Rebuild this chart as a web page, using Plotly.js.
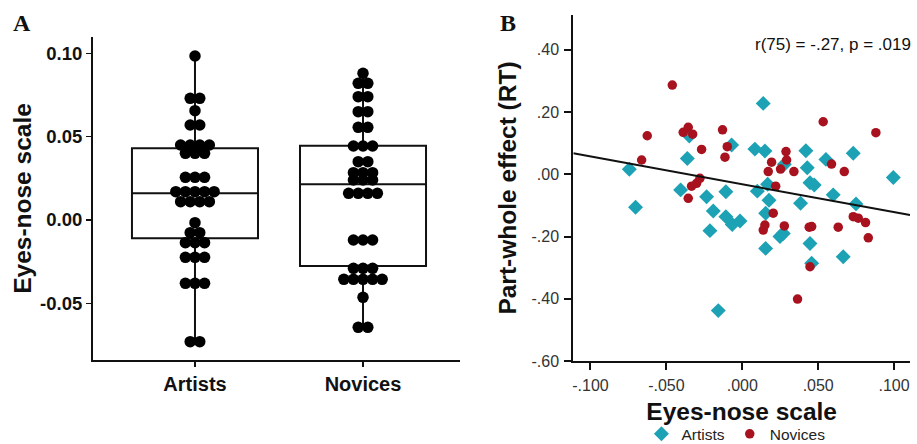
<!DOCTYPE html>
<html>
<head>
<meta charset="utf-8">
<script src="https://cdn.plot.ly/plotly-3.0.1.min.js"></script>
<style>html,body{margin:0;padding:0;background:#fff;}#chart{width:917px;height:444px;}</style>
</head>
<body>
<div id="chart"></div>
<script>
// ---------- Panel A: dot plot + box (Eyes-nose scale) ----------
const groupLabels = ["Artists", "Novices"];
const artistsScale = [
  0.0984,
  0.073, 0.073,
  0.0656,
  0.057, 0.057,
  0.045, 0.045, 0.045, 0.045,
  0.040, 0.040, 0.040,
  0.0256, 0.0256, 0.0256,
  0.017, 0.017, 0.017, 0.017, 0.017,
  0.011, 0.011, 0.011, 0.011,
  -0.0016,
  -0.0076, -0.0076,
  -0.0136, -0.0136, -0.0136,
  -0.0224, -0.0224, -0.0224,
  -0.038, -0.038, -0.038,
  -0.073, -0.073
];
const novicesScale = [
  0.088,
  0.082, 0.082,
  0.074, 0.074,
  0.065, 0.065,
  0.0556, 0.0556,
  0.0444, 0.0444, 0.0444,
  0.035, 0.035,
  0.0284, 0.0284, 0.0284,
  0.024, 0.024, 0.024,
  0.016, 0.016, 0.016, 0.016,
  -0.012, -0.012, -0.012,
  -0.029, -0.029, -0.029,
  -0.0356, -0.0356, -0.0356, -0.0356, -0.0356,
  -0.0464,
  -0.0644, -0.0644
];
// box summary (whiskers to min / max)
const boxMin    = [-0.073, -0.0644];
const boxQ1     = [-0.011, -0.0276];
const boxMedian = [0.016, 0.0214];
const boxQ3     = [0.043, 0.0446];
const boxMax    = [0.0984, 0.088];

// ---------- Panel B: scatter ----------
const artistsX = [-0.0744,-0.0703,-0.0362,-0.0406,-0.0235,-0.0191,-0.0213,-0.0158,-0.0108,-0.0108,
  -0.0070,-0.0066,-0.0015,0.0083,0.0099,0.0138,0.0149,0.0167,0.0176,0.0154,
  0.0154,0.0248,0.0270,0.0277,0.0384,0.0419,0.0428,0.0446,0.0474,0.0446,
  0.0457,0.0551,0.0599,0.0665,0.0731,0.0749,0.0995,-0.0349];
const artistsY = [0.016,-0.106,0.051,-0.050,-0.072,-0.118,-0.181,-0.438,-0.056,-0.136,
  0.094,-0.161,-0.150,0.081,-0.054,0.228,0.075,-0.032,-0.083,-0.125,
  -0.238,-0.200,-0.190,0.032,-0.093,0.076,0.021,-0.027,-0.034,-0.222,
  -0.286,0.048,-0.066,-0.265,0.068,-0.095,-0.010,0.123];
const novicesX = [-0.0461,-0.0626,-0.0663,-0.0389,-0.0356,-0.0327,-0.0268,-0.0334,-0.0301,-0.0279,
  -0.0356,-0.0130,-0.0099,-0.0114,0.0138,0.0149,0.0171,0.0193,0.0204,0.0220,
  0.0252,0.0288,0.0292,0.0277,0.0340,0.0364,0.0441,0.0457,0.0446,0.0533,
  0.0588,0.0632,0.0672,0.0731,0.0764,0.0812,0.0830,0.0880];
const novicesY = [0.287,0.124,0.046,0.135,0.151,0.129,0.080,-0.038,-0.029,-0.013,
  -0.077,0.143,0.089,0.055,-0.179,-0.163,0.009,0.039,-0.125,-0.038,
  0.017,0.073,0.046,-0.166,0.009,-0.401,-0.170,-0.168,-0.297,0.169,
  0.033,-0.170,0.009,-0.136,-0.141,-0.155,-0.204,0.134];
const fitIntercept = -0.032;
const fitSlope = -0.895;
const fitXRange = [-0.1113, 0.1105];
const statText = "r(75) = -.27, p = .019";

// dot-plot stacking: centre equal values side by side
function stackOffsets(vals, centre, step) {
  const counts = {}, seen = {};
  vals.forEach(v => { counts[v] = (counts[v] || 0) + 1; });
  return vals.map(v => {
    const i = seen[v] || 0; seen[v] = i + 1;
    return centre + (i - (counts[v] - 1) / 2) * step;
  });
}
const dotStep = 0.057;

const FONT = "Arial, 'Liberation Sans', sans-serif";
const SERIF = "'Times New Roman', 'Liberation Serif', serif";
const CYAN = "#1ca2b4";
const RED = "#a8121e";

const traces = [
  {
    type: "box", xaxis: "x", yaxis: "y",
    x: [0, 1], q1: boxQ1, median: boxMedian, q3: boxQ3,
    lowerfence: boxMin, upperfence: boxMax,
    width: 0.75, whiskerwidth: 0, boxpoints: false,
    line: {color: "#111", width: 2}, fillcolor: "rgba(255,255,255,0)",
    showlegend: false, hoverinfo: "skip"
  },
  {
    type: "scatter", mode: "markers", xaxis: "x", yaxis: "y",
    x: stackOffsets(artistsScale, 0, dotStep), y: artistsScale,
    marker: {color: "#000", size: 11.5}, showlegend: false
  },
  {
    type: "scatter", mode: "markers", xaxis: "x", yaxis: "y",
    x: stackOffsets(novicesScale, 1, dotStep), y: novicesScale,
    marker: {color: "#000", size: 11.5}, showlegend: false
  },
  {
    type: "scatter", mode: "markers", xaxis: "x2", yaxis: "y2",
    name: "Artists", x: artistsX, y: artistsY,
    marker: {color: CYAN, symbol: "diamond", size: 11.5}
  },
  {
    type: "scatter", mode: "markers", xaxis: "x2", yaxis: "y2",
    name: "Novices", x: novicesX, y: novicesY,
    marker: {color: RED, symbol: "circle", size: 9.5}
  },
  {
    type: "scatter", mode: "lines", xaxis: "x2", yaxis: "y2",
    x: fitXRange, y: fitXRange.map(x => fitIntercept + fitSlope * x),
    line: {color: "#111", width: 2}, showlegend: false, hoverinfo: "skip"
  }
];

const layout = {
  width: 917, height: 444,
  margin: {l: 0, r: 0, t: 0, b: 0, autoexpand: false},
  paper_bgcolor: "#fff", plot_bgcolor: "rgba(0,0,0,0)",
  font: {family: FONT, color: "#000"},
  showlegend: true,
  legend: {
    orientation: "h", x: 0.6995, y: 0.022, xanchor: "left", yanchor: "middle",
    font: {family: FONT, size: 15.5, color: "#222"},
    itemwidth: 30, tracegroupgap: 0, bgcolor: "rgba(0,0,0,0)"
  },
  xaxis: {
    domain: [0.1014, 0.5016], range: [-0.607, 1.577],
    tickvals: [0, 1], ticktext: groupLabels,
    showgrid: false, zeroline: false, showline: true, linecolor: "#111", linewidth: 2,
    ticks: "outside", ticklen: 5, tickwidth: 1.5, tickcolor: "#111",
    tickfont: {family: FONT, size: 20, color: "#111", weight: "bold"},
    anchor: "y", fixedrange: true
  },
  yaxis: {
    domain: [0.1892, 0.9167], range: [-0.084, 0.1098],
    tickvals: [-0.05, 0, 0.05, 0.10], ticktext: ["-0.05", "0.00", "0.05", "0.10"],
    showgrid: false, zeroline: false, showline: true, linecolor: "#111", linewidth: 2,
    ticks: "outside", ticklen: 5, tickwidth: 1.5, tickcolor: "#111",
    tickfont: {family: FONT, size: 18.5, color: "#111", weight: "bold"},
    title: {text: "Eyes-nose scale", font: {family: FONT, size: 24.5, color: "#111", weight: "bold"}, standoff: 2},
    anchor: "x", fixedrange: true
  },
  xaxis2: {
    domain: [0.6252, 0.9924], range: [-0.1113, 0.1105],
    tickvals: [-0.1, -0.05, 0, 0.05, 0.1], ticktext: ["-.100", "-.050", ".000", ".050", ".100"],
    showgrid: false, zeroline: false, showline: true, linecolor: "#111", linewidth: 2,
    ticks: "outside", ticklen: 7, tickwidth: 2, tickcolor: "#111",
    tickfont: {family: FONT, size: 16, color: "#333"}, ticklabelstandoff: 2,
    title: {text: "Eyes-nose scale", font: {family: FONT, size: 24.5, color: "#111", weight: "bold"}, standoff: 10},
    anchor: "y2", fixedrange: true
  },
  yaxis2: {
    domain: [0.1869, 0.9662], range: [-0.60, 0.512],
    tickvals: [-0.6, -0.4, -0.2, 0, 0.2, 0.4], ticktext: ["-.60", "-.40", "-.20", ".00", ".20", ".40"],
    showgrid: false, zeroline: false, showline: true, linecolor: "#111", linewidth: 2,
    ticks: "outside", ticklen: 7, tickwidth: 2, tickcolor: "#111",
    tickfont: {family: FONT, size: 16, color: "#333"}, ticklabelstandoff: 2,
    title: {text: "Part-whole effect (RT)", font: {family: FONT, size: 24.5, color: "#111", weight: "bold"}, standoff: 8},
    anchor: "x2", fixedrange: true
  },
  annotations: [
    {text: "A", xref: "paper", yref: "paper", x: 22/917, y: 1 - 23/444, xanchor: "center", yanchor: "middle",
     showarrow: false, font: {family: SERIF, size: 24, color: "#111", weight: "bold"}},
    {text: "B", xref: "paper", yref: "paper", x: 508/917, y: 1 - 23/444, xanchor: "center", yanchor: "middle",
     showarrow: false, font: {family: SERIF, size: 24, color: "#111", weight: "bold"}},
    {text: statText, xref: "paper", yref: "paper", x: 913/917, y: 1 - 45/444, xanchor: "right", yanchor: "middle",
     showarrow: false, font: {family: FONT, size: 17, color: "#111"}}
  ]
};

Plotly.newPlot("chart", traces, layout, {displayModeBar: false, staticPlot: true});
</script>
</body>
</html>
